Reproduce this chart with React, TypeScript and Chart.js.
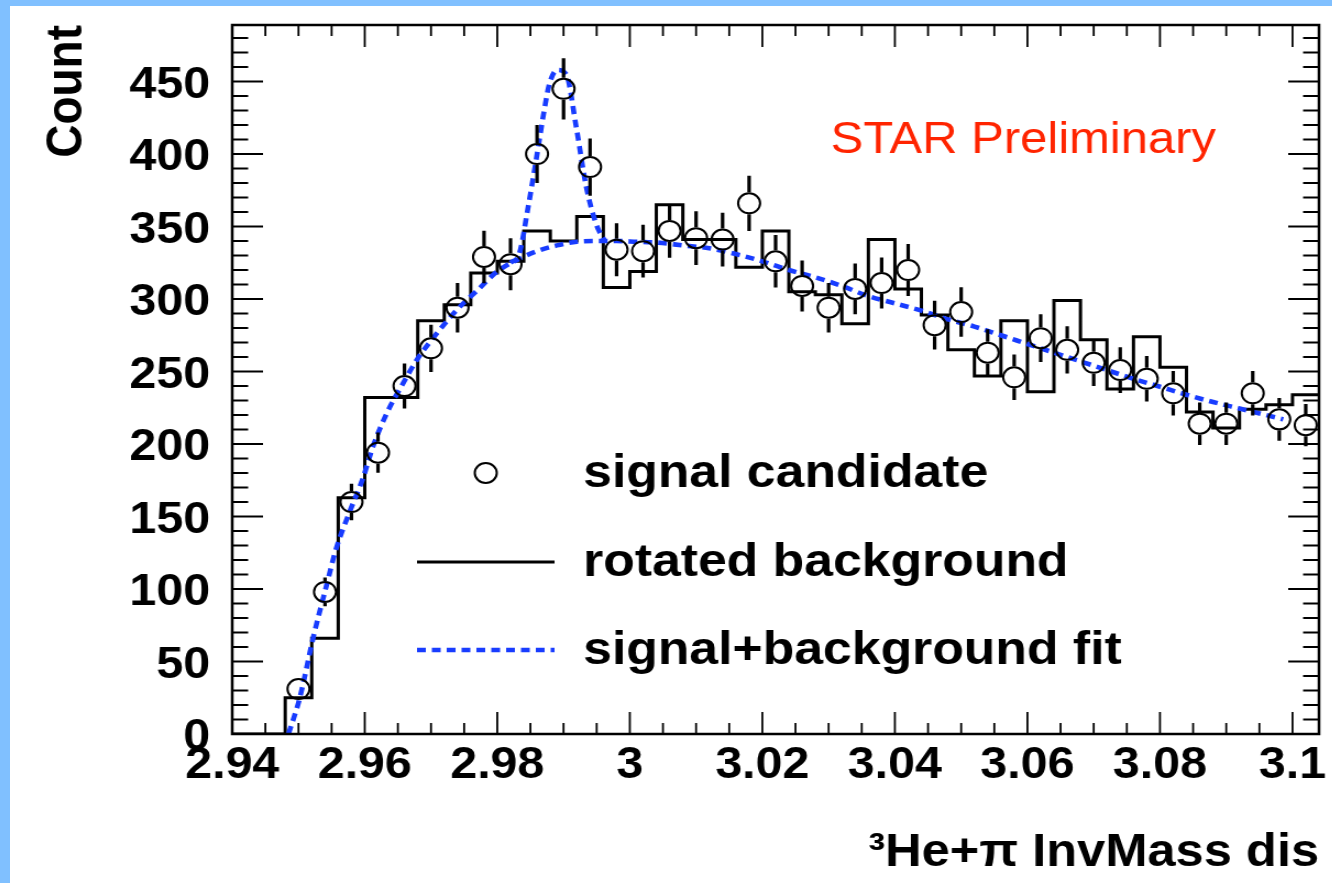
import React, { useEffect, useRef } from 'react';
import { Chart, registerables } from 'chart.js';

Chart.register(...registerables);

// 3He + pi invariant-mass spectrum, 41 bins of 0.004 GeV/c^2
const binCenters = [
  2.942, 2.946, 2.95, 2.954, 2.958, 2.962, 2.966, 2.97, 2.974, 2.978,
  2.982, 2.986, 2.99, 2.994, 2.998, 3.002, 3.006, 3.01, 3.014, 3.018,
  3.022, 3.026, 3.03, 3.034, 3.038, 3.042, 3.046, 3.05, 3.054, 3.058,
  3.062, 3.066, 3.07, 3.074, 3.078, 3.082, 3.086, 3.09, 3.094, 3.098,
  3.102,
];
const binWidth = 0.004;

// same-event candidates (open circles) and their statistical errors
const signalCounts = [
  null, null, 31, 98, 160, 194, 240, 266, 294, 329,
  324, 400, 445, 391, 334, 333, 347, 342, 341, 366,
  326, 309, 294, 307, 311, 320, 282, 291, 263, 246,
  273, 265, 256, 251, 245, 235, 214, 214, 235, 217,
  213,
];
const signalErrors = [
  null, null, 5.6, 9.9, 12.6, 13.9, 15.5, 16.3, 17.1, 18.1,
  18.0, 20.0, 21.1, 19.8, 18.3, 18.2, 18.6, 18.5, 18.5, 19.1,
  18.1, 17.6, 17.1, 17.5, 17.6, 17.9, 16.8, 17.1, 16.2, 15.7,
  16.5, 16.3, 16.0, 15.8, 15.7, 15.3, 14.6, 14.6, 15.3, 14.7,
  14.6,
];

// rotated-track background histogram
const rotatedBackground = [
  0, 0, 25, 66, 163, 232, 232, 285, 296, 318,
  326, 347, 340, 357, 308, 319, 365, 341, 341, 322,
  347, 305, 303, 283, 341, 307, 289, 265, 247, 285,
  236, 299, 272, 238, 274, 253, 222, 211, 224, 227,
  234,
];

// signal+background fit: smooth background component
const fitBackgroundMass = [
  2.9485, 2.9502, 2.9522, 2.9542, 2.9557, 2.9577, 2.9597, 2.9613, 2.9633, 2.9658,
  2.968, 2.971, 2.974, 2.977, 2.98, 2.983, 2.986, 2.989, 2.992, 2.995,
  2.998, 3.001, 3.004, 3.008, 3.012, 3.016, 3.02, 3.024, 3.028, 3.032,
  3.036, 3.04, 3.044, 3.048, 3.052, 3.056, 3.06, 3.064, 3.068, 3.072,
  3.076, 3.08, 3.084, 3.088, 3.092, 3.096, 3.0986,
];
const fitBackgroundCount = [
  0, 25, 66, 102, 128, 153, 176, 199, 221, 242,
  259, 277, 293, 306, 319, 327, 333, 337, 339.5, 340,
  340, 339.5, 339, 337, 335, 331, 326, 320, 315, 309,
  302, 297, 292, 286, 281, 275, 269, 263, 257, 251,
  245, 239.5, 234, 229, 224.5, 220, 217,
];
// signal+background fit around the hypertriton peak
const fitPeakMass = [2.982, 2.9833, 2.9846, 2.9859, 2.987, 2.9879, 2.9891, 2.9904, 2.9919, 2.9934, 2.9949, 2.9962];
const fitPeakCount = [325, 331, 362, 397, 428, 449, 458, 455, 419, 378, 352, 340];

const xTickValues = [2.94, 2.96, 2.98, 3.0, 3.02, 3.04, 3.06, 3.08, 3.1];
const xTickLabels = ['2.94', '2.96', '2.98', '3', '3.02', '3.04', '3.06', '3.08', '3.1'];
const yTickValues = [0, 50, 100, 150, 200, 250, 300, 350, 400, 450];
const yTickLabels = ['0', '50', '100', '150', '200', '250', '300', '350', '400', '450'];

const legendLabels = ['signal candidate', 'rotated background', 'signal+background fit'];
const annotationText = 'STAR Preliminary';

const X_MIN = 2.94;
const X_MAX = 3.104;
const Y_MIN = 0;
const Y_MAX = 489;
const X_MINOR_STEP = 0.005;
const Y_MINOR_STEP = 10;

const FONT = "'Liberation Sans', Arial, Helvetica, sans-serif";
const FIT_BLUE = 'rgb(24, 60, 255)';
const MARKER_RADIUS = 10;
const FIT_DASH = [8, 5.5];
const FIT_WIDTH = 4.6;

const CANVAS_W = 1202;
const CANVAS_H = 877;
const STRETCH_X = 1.1;

const errorBarPlugin = {
  id: 'errorBars',
  afterDatasetsDraw(chart: any) {
    const meta = chart.getDatasetMeta(0);
    const pts = chart.data.datasets[0].data as any[];
    const ys = chart.scales.y;
    const ctx = chart.ctx as CanvasRenderingContext2D;
    const r = MARKER_RADIUS + 1;
    ctx.save();
    ctx.strokeStyle = '#000';
    ctx.lineWidth = 3.2;
    ctx.beginPath();
    meta.data.forEach((el: any, i: number) => {
      const p = pts[i];
      const top = ys.getPixelForValue(p.y + p.err);
      const bottom = ys.getPixelForValue(p.y - p.err);
      if (el.y - r > top) {
        ctx.moveTo(el.x, top);
        ctx.lineTo(el.x, el.y - r);
      }
      if (bottom > el.y + r) {
        ctx.moveTo(el.x, el.y + r);
        ctx.lineTo(el.x, bottom);
      }
    });
    ctx.stroke();
    ctx.restore();
  },
};

// ROOT-style frame with inward ticks on all four sides
const framePlugin = {
  id: 'rootFrame',
  afterDatasetsDraw(chart: any) {
    const ctx = chart.ctx as CanvasRenderingContext2D;
    const a = chart.chartArea;
    const xs = chart.scales.x;
    const ys = chart.scales.y;
    ctx.save();
    ctx.strokeStyle = '#000';
    ctx.lineWidth = 1.8;
    ctx.beginPath();
    for (let i = 0; ; i++) {
      const v = X_MIN + i * X_MINOR_STEP;
      if (v > X_MAX + 1e-9) break;
      const major = xTickValues.some((t) => Math.abs(t - v) < 1e-6);
      const len = major ? 22 : 11;
      const px = xs.getPixelForValue(v);
      ctx.moveTo(px, a.bottom);
      ctx.lineTo(px, a.bottom - len);
      ctx.moveTo(px, a.top);
      ctx.lineTo(px, a.top + len);
    }
    ctx.stroke();
    ctx.lineWidth = 2;
    ctx.beginPath();
    for (let v = Y_MIN; v <= Y_MAX; v += Y_MINOR_STEP) {
      const major = yTickValues.includes(v);
      const len = major ? 28 : 14.5;
      const py = ys.getPixelForValue(v);
      ctx.moveTo(a.left, py);
      ctx.lineTo(a.left + len, py);
      ctx.moveTo(a.right, py);
      ctx.lineTo(a.right - len, py);
    }
    ctx.stroke();
    ctx.lineWidth = 2.5;
    ctx.strokeRect(a.left, a.top, a.right - a.left, a.bottom - a.top);
    ctx.restore();
  },
};

// in-frame legend and preliminary label
const legendPlugin = {
  id: 'frameLegend',
  afterDraw(chart: any) {
    const ctx = chart.ctx as CanvasRenderingContext2D;
    const a = chart.chartArea;
    ctx.save();

    ctx.fillStyle = 'rgb(255, 36, 0)';
    ctx.font = `normal 44.5px ${FONT}`;
    ctx.textBaseline = 'alphabetic';
    ctx.textAlign = 'left';
    ctx.fillText(annotationText, a.left + 544, a.top + 128);

    const markerLeft = a.left + 168;
    const markerRight = a.left + 293;
    const textX = a.left + 319;
    const rowY = [a.top + 448, a.top + 537, a.top + 625];

    ctx.strokeStyle = '#000';
    ctx.lineWidth = 2;
    ctx.beginPath();
    ctx.arc((markerLeft + markerRight) / 2, rowY[0], MARKER_RADIUS, 0, Math.PI * 2);
    ctx.stroke();

    ctx.lineWidth = 3;
    ctx.beginPath();
    ctx.moveTo(markerLeft, rowY[1]);
    ctx.lineTo(markerRight, rowY[1]);
    ctx.stroke();

    ctx.strokeStyle = FIT_BLUE;
    ctx.lineWidth = FIT_WIDTH;
    ctx.setLineDash(FIT_DASH);
    ctx.beginPath();
    ctx.moveTo(markerLeft, rowY[2]);
    ctx.lineTo(markerRight, rowY[2]);
    ctx.stroke();
    ctx.setLineDash([]);

    ctx.fillStyle = '#000';
    ctx.font = `bold 47px ${FONT}`;
    legendLabels.forEach((t, i) => {
      ctx.fillText(t, textX, rowY[i] + 14);
    });
    ctx.restore();
  },
};

export default function App() {
  const canvasRef = useRef<HTMLCanvasElement | null>(null);

  useEffect(() => {
    const canvas = canvasRef.current;
    if (!canvas) return;

    Chart.defaults.font.family = FONT;
    Chart.defaults.color = '#000';

    const signalPoints = binCenters
      .map((x, i) => ({ x, y: signalCounts[i] as number, err: signalErrors[i] as number }))
      .filter((p) => p.y !== null);

    const histPoints = binCenters.map((c, i) => ({ x: c - binWidth / 2, y: rotatedBackground[i] }));
    histPoints.push({
      x: binCenters[binCenters.length - 1] + binWidth / 2,
      y: rotatedBackground[rotatedBackground.length - 1],
    });

    const bkgFit = fitBackgroundMass.map((x, i) => ({ x, y: fitBackgroundCount[i] }));
    const peakFit = fitPeakMass.map((x, i) => ({ x, y: fitPeakCount[i] }));

    const chart = new Chart(canvas, {
      type: 'scatter',
      data: {
        datasets: [
          {
            label: legendLabels[0],
            data: signalPoints,
            showLine: false,
            pointStyle: 'circle',
            pointRadius: MARKER_RADIUS,
            pointHoverRadius: MARKER_RADIUS,
            pointBorderWidth: 2,
            pointBorderColor: '#000',
            pointBackgroundColor: 'rgba(0,0,0,0)',
          } as any,
          {
            label: legendLabels[2],
            data: peakFit,
            showLine: true,
            borderColor: FIT_BLUE,
            borderWidth: FIT_WIDTH,
            borderDash: FIT_DASH,
            pointRadius: 0,
            cubicInterpolationMode: 'monotone',
            fill: false,
          } as any,
          {
            label: legendLabels[2],
            data: bkgFit,
            showLine: true,
            borderColor: FIT_BLUE,
            borderWidth: FIT_WIDTH,
            borderDash: FIT_DASH,
            pointRadius: 0,
            cubicInterpolationMode: 'monotone',
            fill: false,
          } as any,
          {
            label: legendLabels[1],
            data: histPoints,
            showLine: true,
            stepped: 'before',
            borderColor: '#000',
            borderWidth: 3,
            pointRadius: 0,
            fill: false,
          } as any,
        ],
      },
      options: {
        responsive: false,
        maintainAspectRatio: false,
        animation: false,
        devicePixelRatio: 1,
        events: [],
        layout: { padding: { top: 19, right: 10, bottom: 0, left: 0 } },
        plugins: {
          legend: { display: false },
          tooltip: { enabled: false },
          title: { display: false },
        },
        scales: {
          x: {
            type: 'linear',
            min: X_MIN,
            max: X_MAX,
            afterBuildTicks: (s: any) => {
              s.ticks = xTickValues.map((v) => ({ value: v }));
            },
            afterFit: (s: any) => {
              s.height = 149;
              s.paddingLeft = 0;
              s.paddingRight = 0;
            },
            grid: { display: false, drawTicks: false },
            border: { display: false },
            ticks: {
              autoSkip: false,
              maxRotation: 0,
              minRotation: 0,
              padding: 5,
              color: '#000',
              font: { size: 44, weight: 'bold', family: FONT },
              callback: (_v: any, i: number) => xTickLabels[i],
            },
            title: {
              display: true,
              text: '³He+π InvMass dis',
              align: 'end',
              color: '#000',
              font: { size: 46, weight: 'bold', family: FONT },
              padding: { top: 0, bottom: 2 },
            },
          },
          y: {
            type: 'linear',
            min: Y_MIN,
            max: Y_MAX,
            afterBuildTicks: (s: any) => {
              s.ticks = yTickValues.map((v) => ({ value: v }));
            },
            afterFit: (s: any) => {
              s.width = 202;
              s.paddingTop = 0;
              s.paddingBottom = 0;
            },
            grid: { display: false, drawTicks: false },
            border: { display: false },
            ticks: {
              autoSkip: false,
              padding: 20,
              labelOffset: 4,
              color: '#000',
              font: { size: 44, weight: 'bold', family: FONT },
              callback: (_v: any, i: number) => yTickLabels[i],
            },
            title: {
              display: true,
              text: 'Count',
              align: 'end',
              color: '#000',
              font: { size: 46, weight: 'bold', family: FONT },
              padding: { top: 25, bottom: 0 },
            },
          },
        },
      } as any,
      plugins: [errorBarPlugin, framePlugin, legendPlugin],
    });

    return () => chart.destroy();
  }, []);

  return (
    <div
      style={{
        position: 'fixed',
        left: 0,
        top: 0,
        width: 1332,
        height: 883,
        background: 'rgb(128, 192, 255)',
        overflow: 'hidden',
      }}
    >
      <div
        style={{
          position: 'absolute',
          left: 10,
          top: 6,
          width: 1322,
          height: 877,
          background: '#fff',
          overflow: 'hidden',
        }}
      >
        <div
          style={{
            width: CANVAS_W,
            height: CANVAS_H,
            transform: `scaleX(${STRETCH_X})`,
            transformOrigin: '0 0',
          }}
        >
          <canvas ref={canvasRef} width={CANVAS_W} height={CANVAS_H} style={{ display: 'block' }} />
        </div>
      </div>
    </div>
  );
}
